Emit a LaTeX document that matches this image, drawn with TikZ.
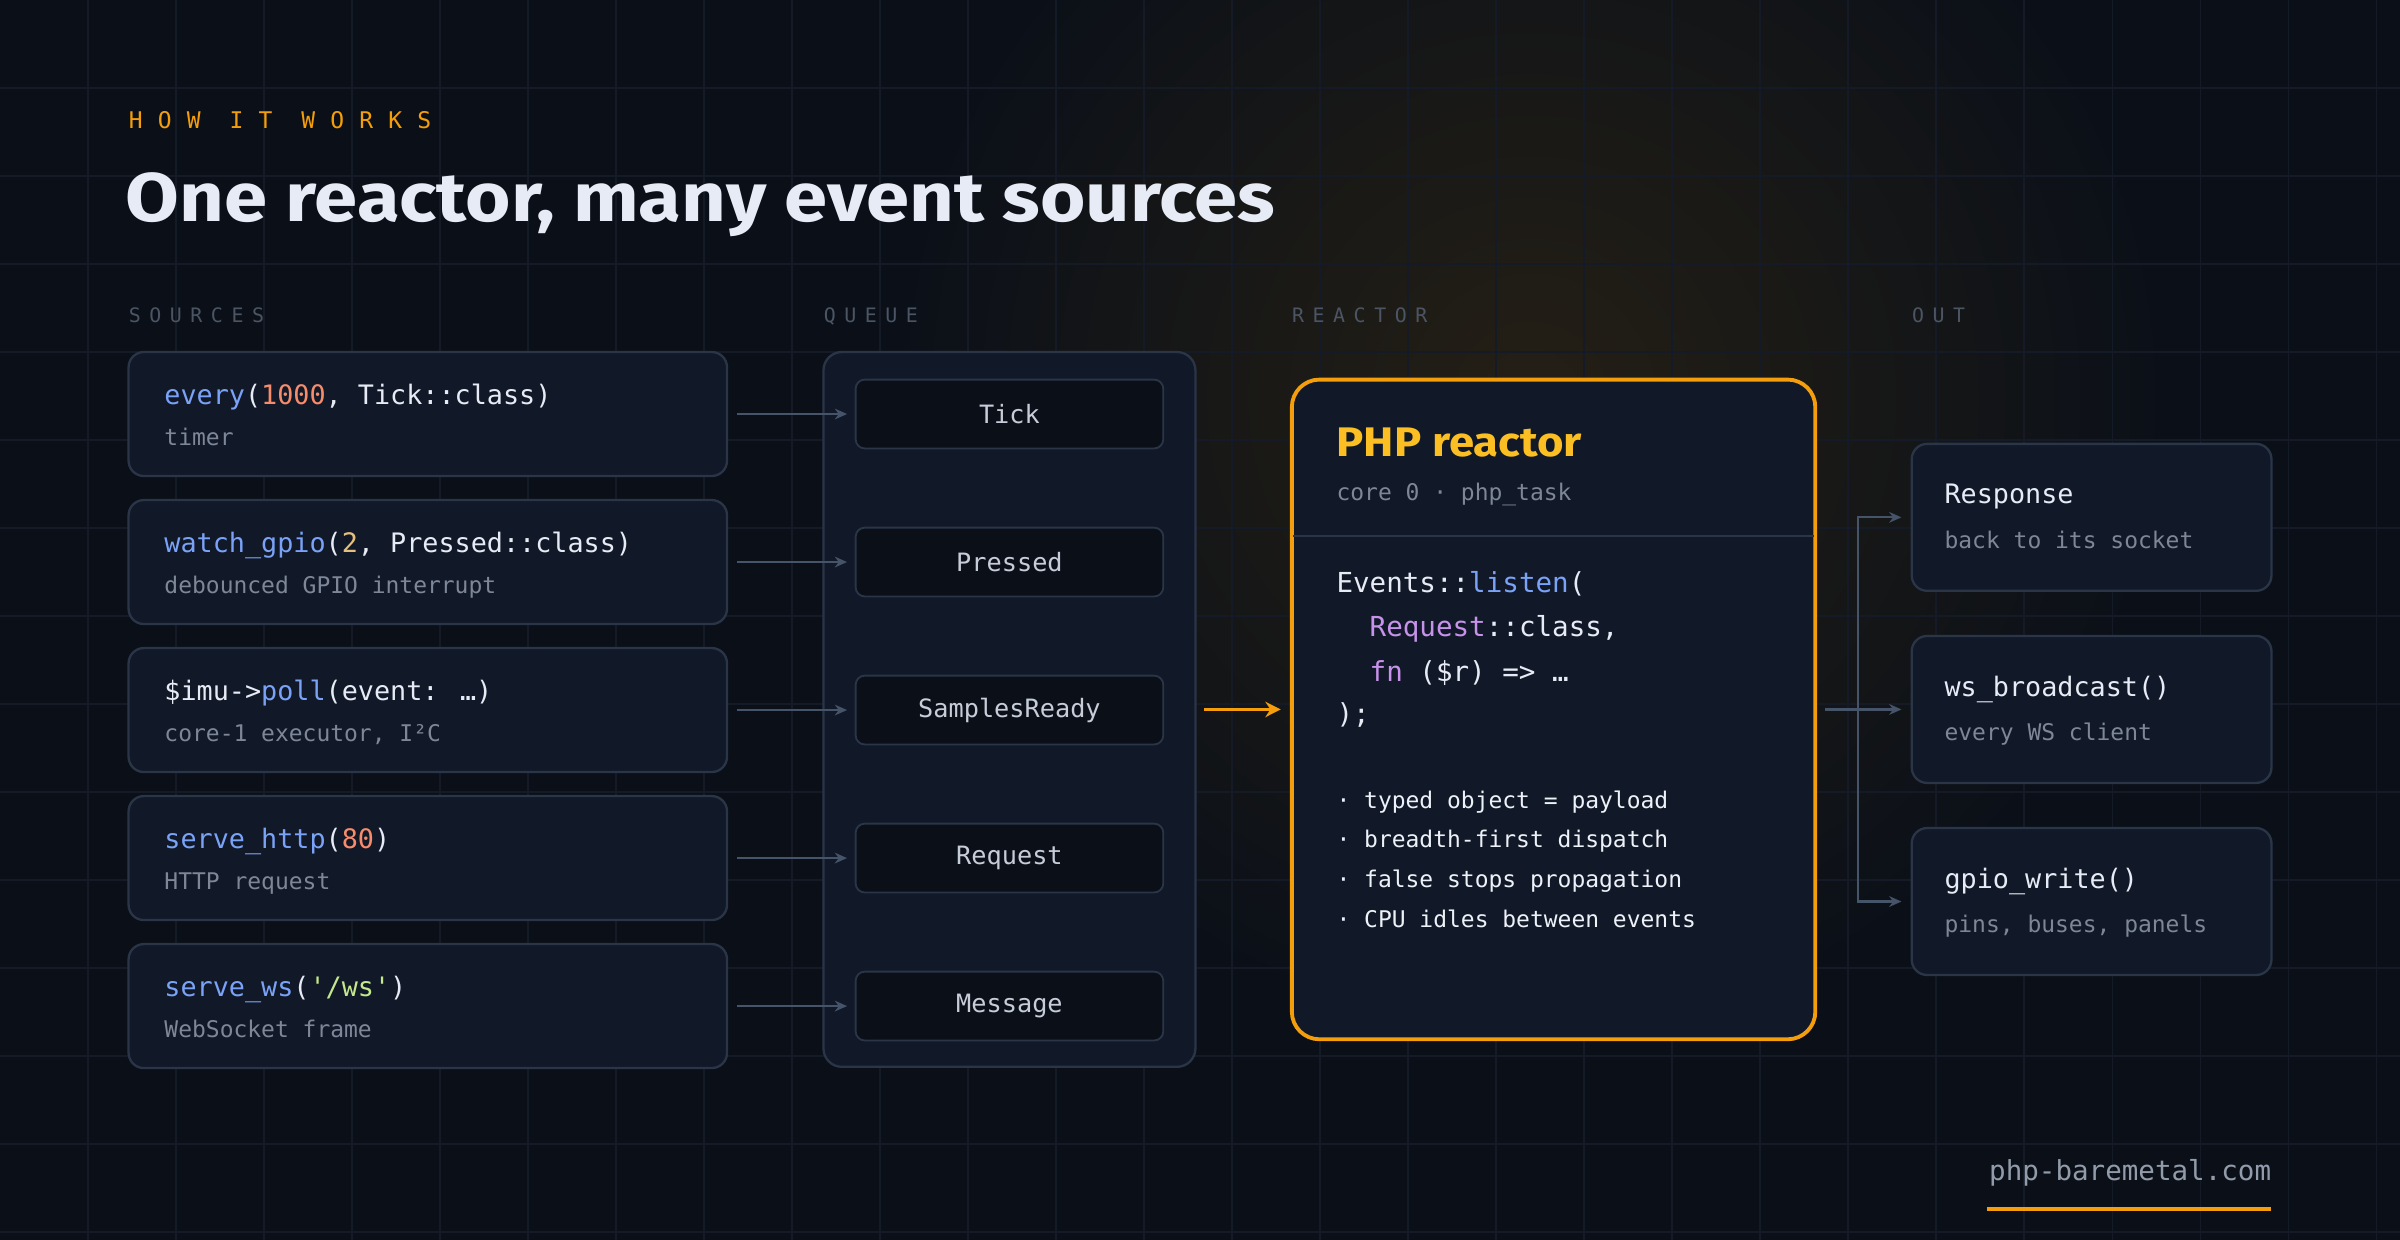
\documentclass[tikz,border=0pt]{standalone}
\usepackage{fontspec}
\usepackage{graphicx}
\setsansfont{Fira Sans}
\newfontfamily\codefont{DejaVu Sans Mono}
\newfontfamily\capsfont{DejaVu Sans Mono}[LetterSpace=43]
\newfontfamily\kickfont{DejaVu Sans Mono}[LetterSpace=66]
\usetikzlibrary{positioning,calc,arrows.meta}

\definecolor{bg}{HTML}{0B1018}
\definecolor{gridc}{HTML}{141B26}
\definecolor{boxfill}{HTML}{111827}
\definecolor{boxline}{HTML}{2A3548}
\definecolor{linkc}{HTML}{46546A}
\definecolor{amber}{HTML}{F59E0B}
\definecolor{gold}{HTML}{FBBF24}
\definecolor{ink}{HTML}{E6EBF5}
\definecolor{mute}{HTML}{7D8797}
\definecolor{dim}{HTML}{4B5563}
\definecolor{fnblue}{HTML}{7AA2F7}
\definecolor{numc}{HTML}{F78C6C}
\definecolor{yelc}{HTML}{E5C07B}
\definecolor{strc}{HTML}{C3E88D}
\definecolor{purc}{HTML}{C792EA}

\newcommand{\fn}[1]{\textcolor{fnblue}{#1}}
\newcommand{\num}[1]{\textcolor{numc}{#1}}
\newcommand{\us}{\char"5F\relax}

\begin{document}
\begin{tikzpicture}
[
    x=1pt, y=-1pt,
    src/.style={draw=boxline, line width=1.5pt, fill=boxfill, rounded corners=10pt,
        minimum width=391pt, minimum height=81pt, inner sep=0pt},
    item/.style={draw=boxline, line width=1.2pt, fill=bg, rounded corners=6pt,
        minimum width=201pt, minimum height=45pt, inner sep=0pt,
        text=ink!70!mute, font=\codefont\fontsize{16.5}{18}\selectfont},
    outbox/.style={src, minimum width=235pt, minimum height=96pt},
    code/.style={anchor=base west, inner sep=0pt, text=ink, font=\codefont\fontsize{17.5}{20}\selectfont},
    sub/.style={anchor=base west, inner sep=0pt, text=mute, font=\codefont\fontsize{15}{17}\selectfont},
    head/.style={anchor=base west, inner sep=0pt, text=dim, font=\capsfont\fontsize{13}{15}\selectfont},
    link/.style={draw=linkc, line width=1.5pt, -{Stealth[length=8pt,width=7pt]}},
    hot/.style={draw=amber, line width=2.5pt, -{Stealth[length=10pt,width=10pt]}},
]
\useasboundingbox (0,0) rectangle (1568,810);
% backdrop
\fill[bg] (0,0) rectangle (1568,810);
\begin{scope}
\clip (0,0) rectangle (1568,810);
\shade[inner color=amber!22!bg, outer color=bg, fill opacity=0.5] (1000,260) circle (420);
\end{scope}
\foreach \k in {1,...,27} \draw[gridc, line width=1pt] (57.5*\k,0) -- (57.5*\k,810);
\foreach \k in {1,...,14} \draw[gridc, line width=1pt] (0,57.5*\k) -- (1568,57.5*\k);

% heading
\node[anchor=base west, inner sep=0pt, text=amber, font=\kickfont\fontsize{15}{17}\selectfont] (kicker) at (84,84) {HOW IT WORKS};
\node[anchor=base west, inner sep=0pt, text=ink, font=\sffamily\bfseries\fontsize{45}{50}\selectfont] (title) at (82,145) {\scalebox{1.13}[1]{One reactor, many event sources}};

\node[head] (hsrc) at (84,211) {SOURCES};
\node[head] (hq) at (538,211) {QUEUE};
\node[head] (hr) at (844,211) {REACTOR};
\node[head] (ho) at (1249,211) {OUT};

% queue
\node[draw=boxline, line width=1.5pt, fill=boxfill, rounded corners=12pt,
    minimum width=243pt, minimum height=467pt] (qp) at (659.5,463.5) {};

% sources and queue items
\foreach \i/\ev/\code/\sub in {
    1/Tick/{\fn{every}(\num{1000}, Tick::class)}/{timer},
    2/Pressed/{\fn{watch\us gpio}(\textcolor{yelc}{2}, Pressed::class)}/{debounced GPIO interrupt},
    3/SamplesReady/{\$imu->\fn{poll}(event: …)}/{core-1 executor, I²C},
    4/Request/{\fn{serve\us http}(\num{80})}/{HTTP request},
    5/Message/{\fn{serve\us ws}(\textcolor{strc}{'/ws'})}/{WebSocket frame}}
{
    \node[src] (s\i) at (279.5,173.8+96.7*\i) {};
    \node[code] at ($(s\i.north west)+(24,35)$) {\code};
    \node[sub] at ($(s\i.north west)+(24,62)$) {\sub};
    \node[item] (q\i) at (659.5,173.8+96.7*\i) {\ev};
    \draw[link] ([xshift=6pt]s\i.east) -- ([xshift=-5pt]q\i.west);
}

% reactor
\node[draw=amber, line width=2.5pt, fill=boxfill, rounded corners=18pt,
    minimum width=342pt, minimum height=431pt] (rx) at (1015,463.5) {};
\draw[boxline, line width=1.5pt] (845,350) -- (1185,350);
\node[anchor=base west, inner sep=0pt, text=gold, font=\sffamily\bfseries\fontsize{27}{30}\selectfont] (rxt) at (873,298) {\scalebox{1.1}[1]{PHP reactor}};
\node[sub] (rxs) at (873,327) {core 0 · php\us task};
\node[code, font=\codefont\fontsize{18}{20}\selectfont] (c1) at (873,387) {Events::\fn{listen}(};
\node[code, font=\codefont\fontsize{18}{20}\selectfont] (c2) at (873,416) {\ \ \textcolor{purc}{Request}::class,};
\node[code, font=\codefont\fontsize{18}{20}\selectfont] (c3) at (873,445) {\ \ \textcolor{purc}{fn} (\$r) => …};
\node[code, font=\codefont\fontsize{18}{20}\selectfont] (c4) at (873,473) {);};
\node[sub, text=ink!70] (b1) at (873,528) {· typed object = payload};
\node[sub, text=ink!70] (b2) at (873,554) {· breadth-first dispatch};
\node[sub, text=ink!70] (b3) at (873,580) {· false stops propagation};
\node[sub, text=ink!70] (b4) at (873,606) {· CPU idles between events};

\draw[hot] ([xshift=5pt]qp.east) -- ([xshift=-6pt]rx.west);

% outputs
\foreach \i/\y/\head/\sub in {
    1/338/{Response}/{back to its socket},
    2/463.5/{ws\us broadcast()}/{every WS client},
    3/589/{gpio\us write()}/{pins, buses, panels}}
{
    \node[outbox] (o\i) at (1366.5,\y) {};
    \node[code, font=\codefont\fontsize{17.5}{20}\selectfont] at ($(o\i.north west)+(22,40)$) {\head};
    \node[sub] at ($(o\i.north west)+(22,69)$) {\sub};
}
\coordinate (fork) at (1214,463.5);
\draw[linkc, line width=1.5pt] ([xshift=5pt]rx.east) -- (fork);
\foreach \i in {1,2,3} \draw[link] (fork) |- ([xshift=-6pt]o\i.west);

% footer
\node[anchor=base east, inner sep=0pt, text=mute!80!ink, font=\codefont\fontsize{18}{20}\selectfont] (site) at (1484,771) {php-baremetal.com};
\draw[amber, line width=3pt] (1298,790) -- (1484,790);
\end{tikzpicture}
\end{document}
